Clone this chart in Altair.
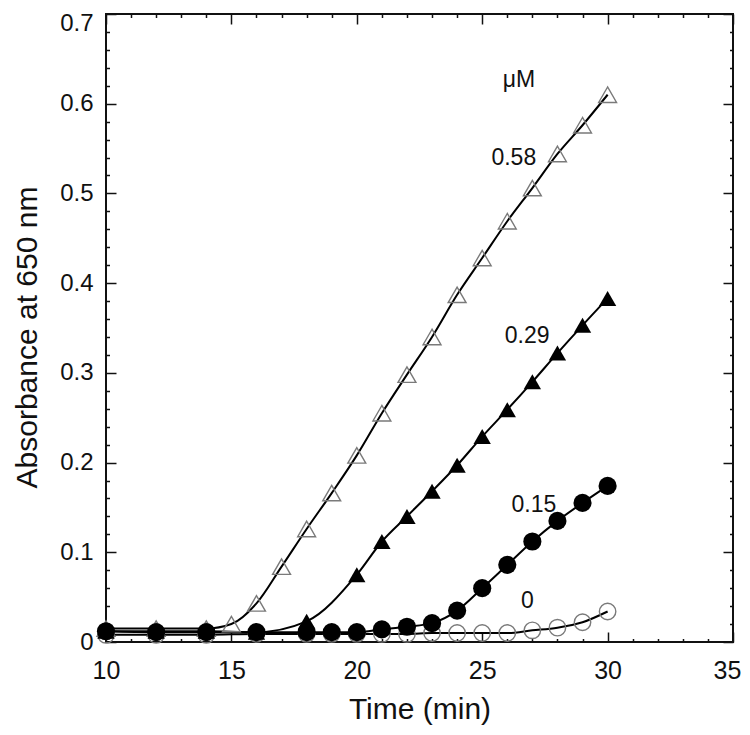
import altair as alt
import pandas as pd
import numpy as np

# ---- data ----
t_058 = [10, 12, 14, 15, 16, 17, 18, 19, 20, 21, 22, 23, 24, 25, 26, 27, 28, 29, 30]
a_058 = [0.015, 0.015, 0.015, 0.020, 0.043, 0.084, 0.126, 0.166, 0.208, 0.255, 0.298,
         0.340, 0.387, 0.428, 0.469, 0.506, 0.544, 0.576, 0.610]

t_029 = [10, 12, 14, 16, 18, 20, 21, 22, 23, 24, 25, 26, 27, 28, 29, 30]
a_029 = [0.012, 0.012, 0.012, 0.011, 0.023, 0.075, 0.112, 0.140, 0.168, 0.197, 0.229,
         0.259, 0.290, 0.322, 0.353, 0.383]

t_015 = [10, 12, 14, 16, 18, 19, 20, 21, 22, 23, 24, 25, 26, 27, 28, 29, 30]
a_015 = [0.012, 0.011, 0.011, 0.011, 0.011, 0.011, 0.011, 0.014, 0.017, 0.021, 0.035,
         0.060, 0.086, 0.112, 0.135, 0.155, 0.174]

t_0 = [10, 12, 14, 16, 18, 19, 20, 21, 22, 23, 24, 25, 26, 27, 28, 29, 30]
a_0 = [0.008, 0.008, 0.008, 0.009, 0.009, 0.009, 0.009, 0.009, 0.009, 0.010, 0.010,
       0.010, 0.010, 0.013, 0.016, 0.022, 0.034]

label_text = ["μM", "0.58", "0.29", "0.15", "0"]
label_x = [26.47, 26.26, 26.79, 27.06, 26.80]
label_y = [0.619, 0.532, 0.333, 0.145, 0.0375]

x_major = [10, 15, 20, 25, 30, 35]
y_major = [0, 0.1, 0.2, 0.3, 0.4, 0.5, 0.6, 0.7]
x_minor = [v for v in range(11, 35) if v % 5 != 0]
y_minor = [round(v, 2) for v in np.arange(0.02, 0.70, 0.02) if round(v * 100) % 10 != 0]

W, H = 627, 628
FONT = "Liberation Sans"

df058 = pd.DataFrame({"t": t_058, "a": a_058})
df029 = pd.DataFrame({"t": t_029, "a": a_029})
df015 = pd.DataFrame({"t": t_015, "a": a_015})
df0 = pd.DataFrame({"t": t_0, "a": a_0})
dflab = pd.DataFrame({"t": label_x, "a": label_y, "txt": label_text})

xs = alt.Scale(domain=[10, 35], nice=False, zero=False)
ys = alt.Scale(domain=[0, 0.7], nice=False, zero=False)


def tick_axis(orient, values, size, offset):
    return alt.Axis(orient=orient, values=values, tickSize=size, offset=offset,
                    labels=False, domain=False, grid=False, title=None,
                    tickColor="#111", tickWidth=1.5)


def axis_layer(xaxis, yaxis):
    return alt.Chart(df058).mark_point(opacity=0).encode(
        x=alt.X("t:Q", scale=xs, axis=xaxis),
        y=alt.Y("a:Q", scale=ys, axis=yaxis),
    )


label_layer = axis_layer(
    alt.Axis(orient="bottom", values=x_major, ticks=False, tickSize=0, domain=False,
             grid=False, labelFont=FONT, labelFontSize=25, labelPadding=16,
             labelFlush=False, labelOverlap=False, labelColor="#111", format="d",
             labelOffset={"condition": {"test": "datum.value >= 35", "value": -6}, "value": 0},
             title="Time (min)", titleFont=FONT, titleFontSize=30, titleFontWeight="normal",
             titleBaseline="alphabetic", titleX=W / 2, titleY=76, titleColor="#111"),
    alt.Axis(orient="left", values=y_major, ticks=False, tickSize=0, domain=False,
             grid=False, labelFont=FONT, labelFontSize=24, labelPadding=13,
             labelFlush=False, labelOverlap=False, labelColor="#111", format=".1~f",
             labelOffset={"condition": {"test": "datum.value >= 0.69", "value": 9}, "value": 0},
             title="Absorbance at 650 nm", titleFont=FONT, titleFontSize=30,
             titleFontWeight="normal", titleBaseline="alphabetic", titleX=-70,
             titleY=323, titleColor="#111"),
)

tick_layers = [
    axis_layer(tick_axis("top", x_major, 10, -H), tick_axis("right", y_major, 10, -W)),
    axis_layer(tick_axis("top", x_minor, 3.5, -H), tick_axis("right", y_minor, 3.5, -W)),
    axis_layer(tick_axis("bottom", x_major, 10, -H), tick_axis("left", y_major, 10, -W)),
    axis_layer(tick_axis("bottom", x_minor, 3.5, -H), tick_axis("left", y_minor, 3.5, -W)),
]


def enc():
    return dict(x=alt.X("t:Q", scale=xs, axis=None), y=alt.Y("a:Q", scale=ys, axis=None))


def line(df):
    return alt.Chart(df).mark_line(color="black", strokeWidth=2,
                                   interpolate="monotone").encode(**enc())


lines = [line(df0), line(df015), line(df029), line(df058)]

pts = [
    alt.Chart(df0).mark_point(shape="circle", size=270, filled=False, color="#7a7a7a",
                              strokeWidth=1.4, opacity=1).encode(**enc()),
    alt.Chart(df058).mark_point(shape="triangle-up", size=320, filled=False,
                                color="#7a7a7a", strokeWidth=1.4, opacity=1).encode(**enc()),
    alt.Chart(df029).mark_point(shape="triangle-up", size=300, filled=True, color="black",
                                opacity=1).encode(**enc()),
    alt.Chart(df015).mark_point(shape="circle", size=330, filled=True, color="black",
                                opacity=1).encode(**enc()),
]

texts = alt.Chart(dflab).mark_text(font=FONT, fontSize=23, baseline="alphabetic",
                                   align="center", color="#111").encode(
    x=alt.X("t:Q", scale=xs, axis=None),
    y=alt.Y("a:Q", scale=ys, axis=None),
    text="txt:N",
)

chart = alt.layer(label_layer, *tick_layers, *lines, *pts, texts).resolve_axis(
    x="independent", y="independent"
).properties(
    width=W, height=H,
    autosize=alt.AutoSizeParams(type="none"),
    padding={"left": 98, "top": 6, "right": 9, "bottom": 84},
).configure(font=FONT).configure_view(stroke="#111", strokeWidth=2)

chart.save("out.html", embed_options={"renderer": "svg", "actions": False})
